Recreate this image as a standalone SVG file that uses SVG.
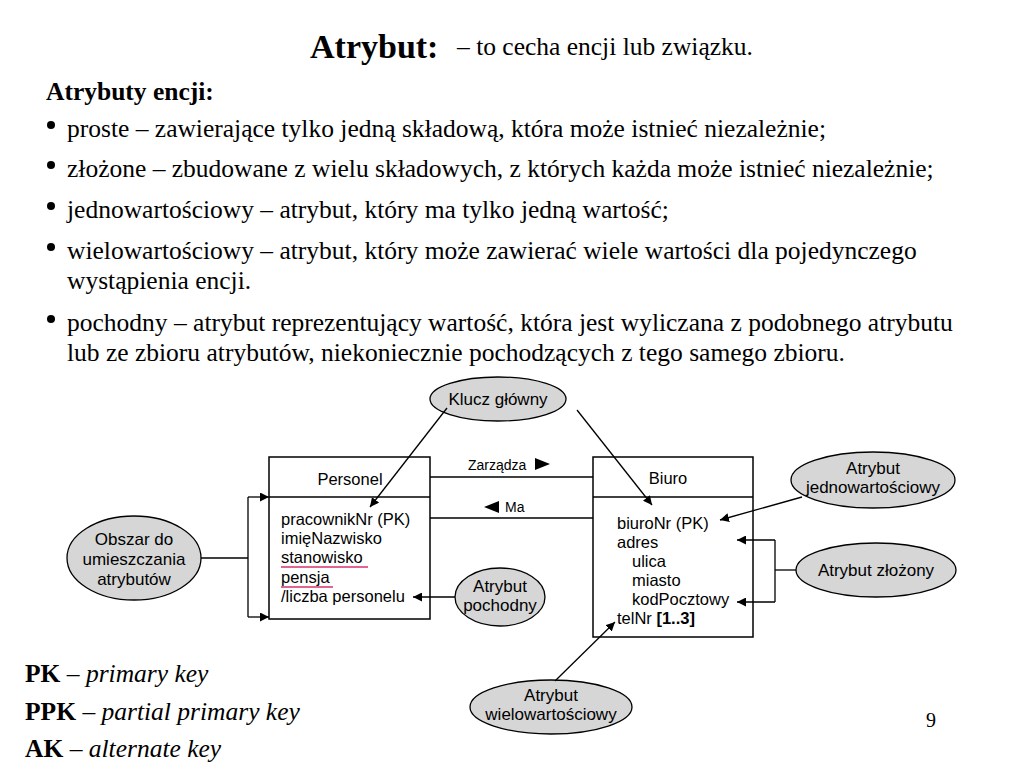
<svg xmlns="http://www.w3.org/2000/svg" width="1024" height="768" viewBox="0 0 1024 768">
<defs>
<style>
.t{font-family:"Liberation Serif","Times New Roman",serif;fill:#000}
.s{font-family:"Liberation Sans",Arial,sans-serif;fill:#000}
.ell{fill:#d6d6d6;stroke:#000;stroke-width:1.3}
.box{fill:#fff;stroke:#000;stroke-width:1.5}
.ln{fill:none;stroke:#000;stroke-width:1.3}
.ul{stroke:#d6336c;stroke-width:1.6}
.a{font-size:16.5px}
.e{font-size:17px}
</style>
<marker id="ah" viewBox="0 0 10 10" refX="10" refY="5" markerWidth="9" markerHeight="9" markerUnits="userSpaceOnUse" orient="auto">
<path d="M0,0 L10,5 L0,10 Z" fill="#000"/>
</marker>
</defs>
<rect width="1024" height="768" fill="#fff"/>

<g id="header">
<text class="t" x="310" y="58" font-size="34" font-weight="bold">Atrybut:</text>
<text class="t" x="457" y="55" font-size="25.5">– to cecha encji lub związku.</text>
<text class="t" x="46" y="100" font-size="25.5" font-weight="bold">Atrybuty encji:</text>
</g>

<g id="bullets">
<circle cx="51" cy="125" r="4"/>
<circle cx="51" cy="165" r="4"/>
<circle cx="51" cy="206" r="4"/>
<circle cx="51" cy="247" r="4"/>
<circle cx="51" cy="319" r="4"/>
<text class="t" x="67" y="137" font-size="25.5">proste – zawierające tylko jedną składową, która może istnieć niezależnie;</text>
<text class="t" x="67" y="177" font-size="25.5">złożone – zbudowane z wielu składowych, z których każda może istnieć niezależnie;</text>
<text class="t" x="67" y="218" font-size="25.5">jednowartościowy – atrybut, który ma tylko jedną wartość;</text>
<text class="t" x="67" y="259" font-size="25.5">wielowartościowy – atrybut, który może zawierać wiele wartości dla pojedynczego</text>
<text class="t" x="67" y="289" font-size="25.5">wystąpienia encji.</text>
<text class="t" x="67" y="331" font-size="25.5">pochodny – atrybut reprezentujący wartość, która jest wyliczana z podobnego atrybutu</text>
<text class="t" x="67" y="361" font-size="25.5">lub ze zbioru atrybutów, niekoniecznie pochodzących z tego samego zbioru.</text>
</g>

<g id="personel">
<rect class="box" x="269" y="457" width="161" height="162"/>
<line class="ln" x1="269" y1="497" x2="430" y2="497" stroke-width="1.8"/>
<text class="s" x="350" y="485" font-size="16.5" text-anchor="middle">Personel</text>
<text class="s a" x="281" y="525">pracownikNr (PK)</text>
<text class="s a" x="281" y="544">imięNazwisko</text>
<text class="s a" x="281" y="563">stanowisko</text>
<text class="s a" x="281" y="583">pensja</text>
<text class="s a" x="281" y="602">/liczba personelu</text>
<line class="ul" x1="281" y1="567" x2="368" y2="567"/>
<line class="ul" x1="281" y1="587" x2="333" y2="587"/>
</g>

<g id="biuro">
<rect class="box" x="593" y="457" width="160" height="180"/>
<line class="ln" x1="593" y1="497" x2="753" y2="497" stroke-width="1.8"/>
<text class="s" x="668" y="484" font-size="16.5" text-anchor="middle">Biuro</text>
<text class="s a" x="617" y="529">biuroNr (PK)</text>
<text class="s a" x="617" y="548">adres</text>
<text class="s a" x="632" y="567">ulica</text>
<text class="s a" x="632" y="586">miasto</text>
<text class="s a" x="632" y="605">kodPocztowy</text>
<text class="s a" x="617" y="624">telNr <tspan font-weight="bold">[1..3]</tspan></text>
</g>

<g id="klucz">
<ellipse class="ell" cx="498" cy="399" rx="68" ry="22"/>
<text class="s e" x="498" y="405" text-anchor="middle">Klucz główny</text>
</g>

<g id="obszar">
<ellipse class="ell" cx="134" cy="558" rx="67" ry="42"/>
<text class="s e" x="134" y="545" text-anchor="middle">Obszar do</text>
<text class="s e" x="134" y="565" text-anchor="middle">umieszczania</text>
<text class="s e" x="134" y="585" text-anchor="middle">atrybutów</text>
</g>

<g id="pochodny">
<ellipse class="ell" cx="500" cy="597" rx="45" ry="29"/>
<text class="s e" x="500" y="592" text-anchor="middle">Atrybut</text>
<text class="s e" x="500" y="611" text-anchor="middle">pochodny</text>
</g>

<g id="jednowart">
<ellipse class="ell" cx="873" cy="480" rx="82" ry="28"/>
<text class="s e" x="873" y="474" text-anchor="middle">Atrybut</text>
<text class="s e" x="873" y="493" text-anchor="middle">jednowartościowy</text>
</g>

<g id="zlozony">
<ellipse class="ell" cx="876" cy="570" rx="80" ry="27"/>
<text class="s e" x="876" y="576" text-anchor="middle">Atrybut złożony</text>
</g>

<g id="wielowart">
<ellipse class="ell" cx="551" cy="707" rx="81" ry="27"/>
<text class="s e" x="551" y="701" text-anchor="middle">Atrybut</text>
<text class="s e" x="551" y="720" text-anchor="middle">wielowartościowy</text>
</g>

<g id="connectors">
<line class="ln" x1="447" y1="408" x2="370" y2="507" marker-end="url(#ah)"/>
<line class="ln" x1="577" y1="410" x2="652" y2="505" marker-end="url(#ah)"/>
<line class="ln" x1="430" y1="477" x2="593" y2="477"/>
<line class="ln" x1="430" y1="518" x2="593" y2="518"/>
<path d="M535,458 L550,464 L535,470 Z" fill="#000"/>
<path d="M499,501 L484,507 L499,513 Z" fill="#000"/>
<line class="ln" x1="201" y1="558" x2="248" y2="558"/>
<line class="ln" x1="248" y1="497" x2="248" y2="617"/>
<line class="ln" x1="248" y1="497" x2="269" y2="497" marker-end="url(#ah)"/>
<line class="ln" x1="248" y1="617" x2="269" y2="617" marker-end="url(#ah)"/>
<line class="ln" x1="455" y1="597" x2="413" y2="597" marker-end="url(#ah)"/>
<line class="ln" x1="802" y1="497" x2="720" y2="520" marker-end="url(#ah)"/>
<line class="ln" x1="796" y1="570" x2="775" y2="570"/>
<line class="ln" x1="775" y1="540" x2="775" y2="602"/>
<line class="ln" x1="775" y1="540" x2="737" y2="540" marker-end="url(#ah)"/>
<line class="ln" x1="775" y1="602" x2="737" y2="602" marker-end="url(#ah)"/>
<line class="ln" x1="555" y1="681" x2="615" y2="622" marker-end="url(#ah)"/>
<text class="s" x="468" y="470" font-size="14">Zarządza</text>
<text class="s" x="505" y="512" font-size="14">Ma</text>
</g>

<g id="legend">
<text class="t" x="25" y="682" font-size="25.5"><tspan font-weight="bold">PK</tspan> – <tspan font-style="italic">primary key</tspan></text>
<text class="t" x="25" y="720" font-size="25.5"><tspan font-weight="bold">PPK</tspan> – <tspan font-style="italic">partial primary key</tspan></text>
<text class="t" x="25" y="757" font-size="25.5"><tspan font-weight="bold">AK</tspan> – <tspan font-style="italic">alternate key</tspan></text>
<text class="t" x="926" y="727" font-size="20">9</text>
</g>
</svg>
